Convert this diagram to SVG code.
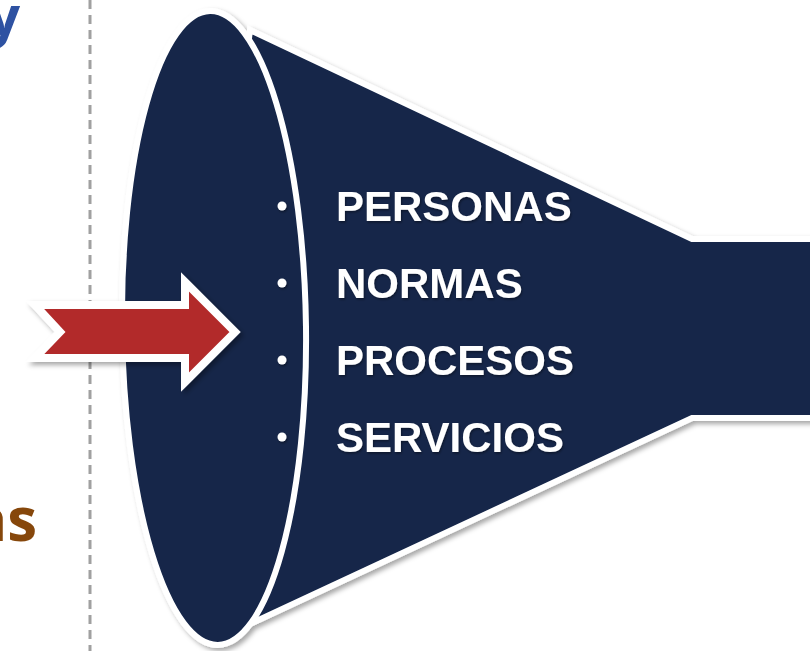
<svg xmlns="http://www.w3.org/2000/svg" width="810" height="651" viewBox="0 0 810 651">
<defs>
<filter id="sh" x="-10%" y="-10%" width="130%" height="130%">
<feDropShadow dx="3" dy="3" stdDeviation="2.5" flood-color="#000" flood-opacity="0.35"/>
</filter>
<filter id="tsh" x="-10%" y="-20%" width="130%" height="150%">
<feDropShadow dx="1" dy="1.5" stdDeviation="1" flood-color="#000" flood-opacity="0.4"/>
</filter>
<style>
.navy{fill:#15264a;stroke:#fff;stroke-width:6;stroke-linejoin:miter}
.lbl{font-family:"Liberation Sans",Arial,sans-serif;font-weight:bold;font-size:42px;fill:#fff}
.dot{fill:#fff}
</style>
</defs>
<rect width="810" height="651" fill="#fff"/>
<g id="side-texts">
<text x="20" y="36" font-family="'Open Sans','DejaVu Sans',sans-serif" font-weight="bold" font-size="56" fill="#2e52a2" text-anchor="end">y</text>
<text x="37" y="541" font-family="'Open Sans','DejaVu Sans',sans-serif" font-weight="bold" font-size="60" fill="#86470b" text-anchor="end">as</text>
</g>
<g id="divider">
<line x1="90" y1="0" x2="90" y2="651" stroke="#a0a0a0" stroke-width="3" stroke-dasharray="9 6"/>
</g>
<g id="funnel" filter="url(#sh)">
<polygon class="navy" points="250,30 692,239 822,239 822,418 692,418 250,624 215,330"/>
<ellipse class="navy" cx="214" cy="328" rx="92" ry="317" transform="rotate(-0.7 214 328)"/>
</g>
<g id="arrow" filter="url(#sh)">
<polygon points="35,305 185,305 185,282 235,332 185,382 185,358 35,358 60,332" fill="#b22a2b" stroke="#fff" stroke-width="8" stroke-linejoin="miter"/>
</g>
<g id="items" filter="url(#tsh)">
<circle class="dot" cx="282" cy="206" r="4.5"/>
<circle class="dot" cx="282" cy="283" r="4.5"/>
<circle class="dot" cx="282" cy="360" r="4.5"/>
<circle class="dot" cx="282" cy="437" r="4.5"/>
<text class="lbl" x="336" y="221">PERSONAS</text>
<text class="lbl" x="336" y="298">NORMAS</text>
<text class="lbl" x="336" y="375">PROCESOS</text>
<text class="lbl" x="336" y="452">SERVICIOS</text>
</g>
</svg>
